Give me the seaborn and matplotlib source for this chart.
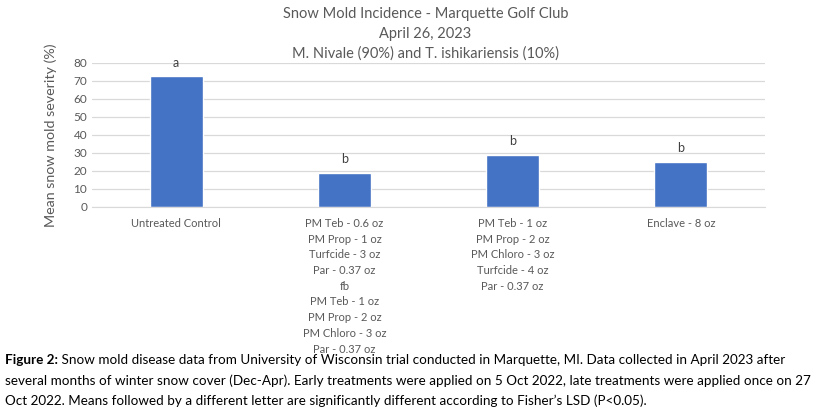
import matplotlib
matplotlib.use("Agg")
import matplotlib.pyplot as plt
import seaborn as sns
import pandas as pd

# Data
treatments = [
    "Untreated Control",
    "PM Teb - 0.6 oz\nPM Prop - 1 oz\nTurfcide - 3 oz\nPar - 0.37 oz\nfb\nPM Teb - 1 oz\nPM Prop - 2 oz\nPM Chloro - 3 oz\nPar - 0.37 oz",
    "PM Teb - 1 oz\nPM Prop - 2 oz\nPM Chloro - 3 oz\nTurfcide - 4 oz\nPar - 0.37 oz",
    "Enclave - 8 oz",
]
severity = [72.5, 19.0, 29.0, 25.0]
letters = ["a", "b", "b", "b"]

title_lines = [
    "Snow Mold Incidence - Marquette Golf Club",
    "April 26, 2023",
    "M. Nivale (90%) and T. ishikariensis (10%)",
]
caption_bold = "Figure 2:"
caption_lines = [
    " Snow mold disease data from University of Wisconsin trial conducted in Marquette, MI. Data collected in April 2023 after",
    "several months of winter snow cover (Dec-Apr). Early treatments were applied on 5 Oct 2022, late treatments were applied once on 27",
    "Oct 2022. Means followed by a different letter are significantly different according to Fisher\u2019s LSD (P<0.05).",
]

df = pd.DataFrame({"Treatment": treatments, "Severity": severity})

sns.set_style("white")
plt.rcParams["font.family"] = ["Lato", "DejaVu Sans"]
grey = "#595959"

fig = plt.figure(figsize=(8.18, 4.12), dpi=100)
ax = fig.add_axes([0.1125, 0.4976, 0.8227, 0.3495])

sns.barplot(data=df, x="Treatment", y="Severity", color="#4472C4",
            width=0.315, saturation=1, ax=ax)

for i, (v, lab) in enumerate(zip(severity, letters)):
    ax.annotate(lab, (i, v), xytext=(0, 5.5), textcoords="offset points",
                ha="center", va="bottom", fontsize=9, color="#404040")

ax.set_ylim(0, 80)
ax.set_yticks(range(0, 81, 10))
ax.yaxis.grid(True, color="#d9d9d9", linewidth=0.9)
ax.set_axisbelow(True)
for s in ["top", "right", "left"]:
    ax.spines[s].set_visible(False)
ax.spines["bottom"].set_color("#d9d9d9")
ax.tick_params(axis="both", length=0, colors=grey, labelsize=8.5)
ax.tick_params(axis="x", pad=8, labelsize=8)
for t in ax.get_xticklabels():
    t.set_linespacing(1.52)
ax.set_xlabel("")
ax.set_ylabel("Mean snow mold severity (%)", fontsize=10.3, color=grey, labelpad=12)

ys = [0.965, 0.917, 0.870]
for y, line in zip(ys, title_lines):
    fig.text(0.52, y, line, ha="center", va="center", fontsize=10.5, color=grey)

# caption
fig.canvas.draw()
renderer = fig.canvas.get_renderer()
cap_y = [0.125, 0.075, 0.028]
fs = 9.75
b = fig.text(0.006, cap_y[0], caption_bold, fontsize=fs, fontweight="bold",
             color="black", va="center")
ext = b.get_window_extent(renderer)
x_after = ext.x1 / fig.bbox.width
fig.text(x_after, cap_y[0], caption_lines[0], fontsize=fs, color="black", va="center")
fig.text(0.006, cap_y[1], caption_lines[1], fontsize=fs, color="black", va="center")
fig.text(0.006, cap_y[2], caption_lines[2], fontsize=fs, color="black", va="center")

fig.savefig("out.png", dpi=100)
